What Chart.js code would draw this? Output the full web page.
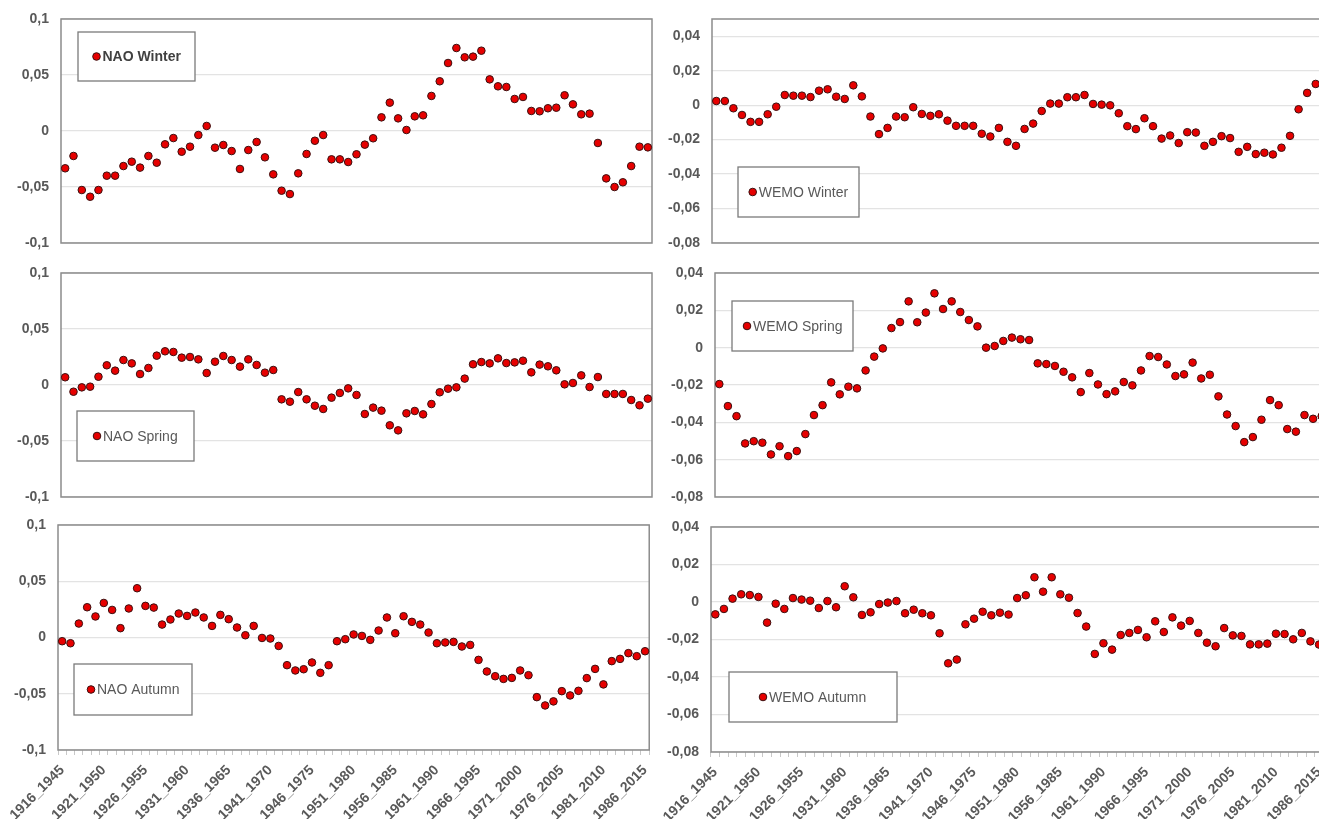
<!DOCTYPE html>
<html><head><meta charset="utf-8">
<script src="https://cdn.jsdelivr.net/npm/chart.js@4.4.1/dist/chart.umd.min.js"></script>
<style>
html,body{margin:0;padding:0;background:#fff;overflow:hidden;width:1319px;height:819px;position:relative;}
.p{position:absolute;}
</style></head><body>
<script>
const categories = ["1916_1945","1917_1946","1918_1947","1919_1948","1920_1949","1921_1950","1922_1951","1923_1952","1924_1953","1925_1954",
"1926_1955","1927_1956","1928_1957","1929_1958","1930_1959","1931_1960","1932_1961","1933_1962","1934_1963","1935_1964",
"1936_1965","1937_1966","1938_1967","1939_1968","1940_1969","1941_1970","1942_1971","1943_1972","1944_1973","1945_1974",
"1946_1975","1947_1976","1948_1977","1949_1978","1950_1979","1951_1980","1952_1981","1953_1982","1954_1983","1955_1984",
"1956_1985","1957_1986","1958_1987","1959_1988","1960_1989","1961_1990","1962_1991","1963_1992","1964_1993","1965_1994",
"1966_1995","1967_1996","1968_1997","1969_1998","1970_1999","1971_2000","1972_2001","1973_2002","1974_2003","1975_2004",
"1976_2005","1977_2006","1978_2007","1979_2008","1980_2009","1981_2010","1982_2011","1983_2012","1984_2013","1985_2014",
"1986_2015"];
const xTickLabels = ["1916_1945","1921_1950","1926_1955","1931_1960","1936_1965","1941_1970","1946_1975","1951_1980",
"1956_1985","1961_1990","1966_1995","1971_2000","1976_2005","1981_2010","1986_2015"];

const naoWinter = [-0.0333,-0.0223,-0.0527,-0.0587,-0.0527,-0.0399,-0.0399,-0.0313,-0.0274,-0.0327,
-0.0223,-0.0283,-0.0119,-0.0063,-0.0185,-0.014,-0.0036,0.0045,-0.0149,-0.0125,
-0.0179,-0.0339,-0.017,-0.0098,-0.0235,-0.0387,-0.0533,-0.0563,-0.0378,-0.0205,
-0.0087,-0.0036,-0.0253,-0.0253,-0.0277,-0.0208,-0.0122,-0.0065,0.0122,0.0253,
0.0113,0.0009,0.0131,0.014,0.0313,0.0444,0.0607,0.0741,0.0658,0.0664,
0.0717,0.0461,0.0399,0.0393,0.0286,0.0304,0.0179,0.0176,0.0203,0.0208,
0.0319,0.0238,0.0149,0.0155,-0.0107,-0.0423,-0.05,-0.0458,-0.0313,-0.014,
-0.0146];
const wemoWinter = [0.0024,0.0024,-0.0018,-0.0057,-0.0097,-0.0097,-0.0053,-0.0009,0.0059,0.0055,
0.0055,0.0047,0.0084,0.0092,0.0049,0.0036,0.0115,0.0051,-0.0066,-0.0168,
-0.0132,-0.0066,-0.007,-0.0012,-0.0051,-0.0062,-0.0053,-0.009,-0.012,-0.012,
-0.012,-0.0166,-0.0182,-0.0132,-0.0213,-0.0236,-0.0138,-0.0107,-0.0034,0.0009,
0.0009,0.0046,0.0046,0.0059,0.0007,0.0003,-0.0001,-0.0047,-0.0122,-0.0139,
-0.0076,-0.0122,-0.0194,-0.0176,-0.022,-0.0157,-0.0159,-0.0236,-0.0213,-0.018,
-0.0191,-0.0271,-0.0242,-0.0284,-0.0276,-0.0286,-0.0247,-0.0178,-0.0024,0.0071,
0.0123];
const naoSpring = [0.0069,-0.006,-0.0021,-0.0015,0.0074,0.0176,0.0128,0.0223,0.0193,0.0098,
0.0152,0.0262,0.0301,0.0295,0.0244,0.025,0.0229,0.0107,0.0208,0.0259,
0.0223,0.0164,0.0229,0.0179,0.011,0.0134,-0.0128,-0.0149,-0.0063,-0.0128,
-0.0185,-0.0214,-0.0113,-0.0071,-0.003,-0.0089,-0.0259,-0.0202,-0.0229,-0.036,
-0.0405,-0.0253,-0.0232,-0.0262,-0.017,-0.0065,-0.0033,-0.0021,0.0057,0.0185,
0.0205,0.0193,0.0238,0.0196,0.0202,0.0217,0.0113,0.0182,0.0167,0.0131,
0.0006,0.0018,0.0086,-0.0018,0.0071,-0.008,-0.008,-0.008,-0.0134,-0.0181,
-0.0122];
const wemoSpring = [-0.0195,-0.0313,-0.0367,-0.0513,-0.0501,-0.0509,-0.0572,-0.0528,-0.0581,-0.0554,
-0.0463,-0.0361,-0.0308,-0.0186,-0.025,-0.0209,-0.0218,-0.0122,-0.0048,-0.0004,
0.0105,0.0137,0.0248,0.0136,0.0188,0.0291,0.0207,0.0248,0.0191,0.0148,
0.0114,0.0,0.0009,0.0036,0.0054,0.0045,0.0041,-0.0084,-0.0088,-0.0098,
-0.0129,-0.0159,-0.0238,-0.0136,-0.0197,-0.0249,-0.0234,-0.0184,-0.0202,-0.0122,
-0.0045,-0.005,-0.009,-0.0152,-0.0143,-0.008,-0.0165,-0.0145,-0.0261,-0.0358,
-0.042,-0.0506,-0.0479,-0.0386,-0.0281,-0.0308,-0.0436,-0.045,-0.0361,-0.0381,
-0.0367];
const naoAutumn = [-0.0033,-0.0051,0.0124,0.0269,0.0187,0.0307,0.0245,0.0083,0.0258,0.0438,
0.0281,0.0266,0.0115,0.016,0.0213,0.0192,0.0222,0.0178,0.0103,0.0201,
0.0163,0.0089,0.002,0.0103,-0.0004,-0.0009,-0.0075,-0.0246,-0.0293,-0.0282,
-0.0222,-0.0314,-0.0246,-0.0033,-0.0015,0.0027,0.0014,-0.0021,0.0062,0.0178,
0.0038,0.0189,0.0139,0.0115,0.0044,-0.0051,-0.0044,-0.0039,-0.008,-0.0066,
-0.0199,-0.0302,-0.0344,-0.0368,-0.0359,-0.0293,-0.0335,-0.053,-0.0604,-0.0568,
-0.0477,-0.0515,-0.0474,-0.0361,-0.0279,-0.0417,-0.021,-0.019,-0.0139,-0.0166,
-0.0122];
const wemoAutumn = [-0.0066,-0.0037,0.0018,0.0041,0.0037,0.0027,-0.011,-0.0009,-0.0037,0.0021,
0.0013,0.0007,-0.0032,0.0005,-0.0028,0.0084,0.0025,-0.0069,-0.0055,-0.0011,
-0.0003,0.0005,-0.006,-0.0041,-0.006,-0.0071,-0.0167,-0.0327,-0.0307,-0.0119,
-0.0089,-0.0052,-0.0071,-0.0057,-0.0067,0.0021,0.0036,0.0132,0.0055,0.0132,
0.0041,0.0023,-0.0059,-0.0131,-0.0277,-0.022,-0.0254,-0.0176,-0.0165,-0.0149,
-0.0188,-0.0103,-0.016,-0.0082,-0.0126,-0.0101,-0.0165,-0.0217,-0.0236,-0.0139,
-0.0178,-0.0181,-0.0226,-0.0226,-0.0222,-0.0169,-0.0171,-0.0199,-0.0165,-0.021,
-0.0227];

const naoTicks = [-0.1,-0.05,0,0.05,0.1];
const wemoTicks = [-0.08,-0.06,-0.04,-0.02,0,0.02,0.04];

Chart.defaults.font.family = '"Liberation Sans", Arial, sans-serif';

const framePlugin = {
  id: 'frameBox',
  beforeDatasetsDraw(chart) {
    const {ctx, chartArea: a} = chart;
    ctx.save();
    ctx.strokeStyle = '#8c8c8c';
    ctx.lineWidth = 1.5;
    ctx.strokeRect(a.left, a.top, a.right - a.left, a.bottom - a.top);
    ctx.restore();
  },
  afterDraw(chart) {
    const o = chart.options.plugins.boxLegend;
    if (!o) return;
    const {ctx, chartArea: a} = chart;
    const ds = chart.data.datasets[0];
    const x = a.left + o.dx, y = a.top + o.dy;
    ctx.save();
    ctx.fillStyle = '#ffffff';
    ctx.fillRect(x, y, o.w, o.h);
    ctx.strokeStyle = '#7a7a7a';
    ctx.lineWidth = 1.3;
    ctx.strokeRect(x, y, o.w, o.h);
    const mx = x + o.mx, my = y + o.h / 2;
    ctx.beginPath();
    ctx.arc(mx, my, 3.8, 0, Math.PI * 2);
    ctx.fillStyle = ds.pointBackgroundColor;
    ctx.fill();
    ctx.lineWidth = 1;
    ctx.strokeStyle = ds.pointBorderColor;
    ctx.stroke();
    ctx.font = (o.bold ? 'bold ' : '') + '14px "Liberation Sans", Arial, sans-serif';
    ctx.fillStyle = o.bold ? '#404040' : '#595959';
    ctx.textAlign = 'left';
    ctx.textBaseline = 'middle';
    ctx.fillText(ds.label, mx + 6, my + 1);
    ctx.restore();
  }
};

const panels = [
  {label:'NAO Winter', data:naoWinter, ticks:naoTicks, min:-0.1, max:0.1, left:1, top:0, w:659, h:255, padTop:19, xH:12, showX:false,
   leg:{dx:17, dy:13, w:117, h:49, mx:18.5, bold:true}},
  {label:'WEMO Winter', data:wemoWinter, ticks:wemoTicks, min:-0.08, max:0.05, left:652, top:0, w:676, h:255, padTop:19, xH:12, showX:false,
   leg:{dx:26, dy:148, w:121, h:50, mx:14.7}},
  {label:'NAO Spring', data:naoSpring, ticks:naoTicks, min:-0.1, max:0.1, left:1, top:255, w:659, h:255, padTop:18, xH:13, showX:false,
   leg:{dx:16, dy:138, w:117, h:50, mx:20}},
  {label:'WEMO Spring', data:wemoSpring, ticks:wemoTicks, min:-0.08, max:0.04, left:655, top:255, w:679, h:255, padTop:18, xH:13, showX:false,
   leg:{dx:17, dy:28, w:121, h:50, mx:15}},
  {label:'NAO Autumn', data:naoAutumn, ticks:naoTicks, min:-0.1, max:0.1, left:-2, top:510, w:666, h:309, padTop:15, xH:69, showX:true,
   leg:{dx:16, dy:139, w:118, h:51, mx:17}},
  {label:'WEMO Autumn', data:wemoAutumn, ticks:wemoTicks, min:-0.08, max:0.04, left:651, top:510, w:687, h:309, padTop:17, xH:67, showX:true,
   leg:{dx:18, dy:145, w:168, h:50, mx:34}}
];

const fmt = v => String(v).replace('.', ',');

panels.forEach(p => {
  const div = document.createElement('div');
  div.className = 'p';
  div.style.left = p.left + 'px';
  div.style.top = p.top + 'px';
  div.style.width = p.w + 'px';
  div.style.height = p.h + 'px';
  const cv = document.createElement('canvas');
  cv.width = p.w; cv.height = p.h;
  cv.style.width = p.w + 'px'; cv.style.height = p.h + 'px';
  cv.style.display = 'block';
  div.appendChild(cv);
  document.body.appendChild(div);
  new Chart(cv, {
    type: 'line',
    data: {
      labels: categories,
      datasets: [{
        label: p.label,
        data: p.data,
        showLine: false,
        pointRadius: 3.8,
        pointHoverRadius: 3.8,
        pointBackgroundColor: '#e60000',
        pointBorderColor: '#3a1010',
        pointBorderWidth: 1
      }]
    },
    options: {
      responsive: false,
      animation: false,
      devicePixelRatio: 1,
      events: [],
      layout: {padding: {left: 0, top: p.padTop, right: 8, bottom: 0}},
      plugins: {legend: {display: false}, tooltip: {enabled: false}, boxLegend: p.leg},
      scales: {
        x: {
          type: 'category',
          offset: true,
          afterFit: s => { s.height = p.xH; },
          border: {display: false},
          grid: {display: p.showX, offset: true, drawOnChartArea: false, drawTicks: true, tickLength: 5, color: '#c8c8c8'},
          ticks: {
            display: p.showX,
            autoSkip: false,
            minRotation: 45,
            maxRotation: 45,
            padding: 7,
            color: '#595959',
            font: {size: 14, weight: 'bold'},
            callback: (v, i) => xTickLabels.includes(categories[i]) ? categories[i] : ''
          }
        },
        y: {
          min: p.min,
          max: p.max,
          afterFit: s => { s.width = 60; },
          afterBuildTicks: s => { s.ticks = p.ticks.map(v => ({value: v})); },
          border: {display: false},
          grid: {color: '#e3e3e3', lineWidth: 1.3, drawTicks: true, tickLength: 12, tickColor: 'rgba(0,0,0,0)'},
          ticks: {padding: 0, color: '#595959', font: {size: 14, weight: 'bold'}, callback: v => fmt(v)}
        }
      }
    },
    plugins: [framePlugin]
  });
});
</script>
</body></html>
